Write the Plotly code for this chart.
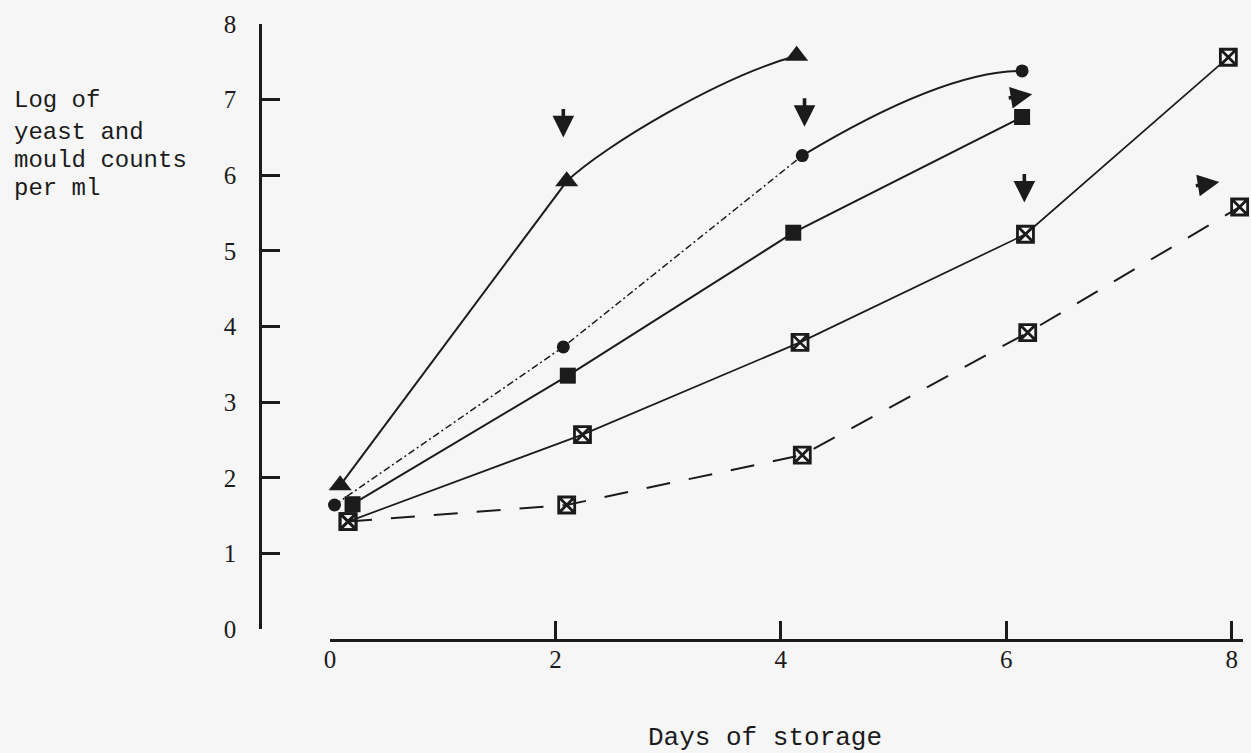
import plotly.graph_objects as go

INK = "#1b1b1b"
PAPER = "#f6f6f6"

# Day of sampling and log10 yeast & mould count per ml for each sample
tri_days = [0.09, 2.10, 4.14]
tri_logs = [1.90, 5.92, 7.58]

dot_days = [0.04, 2.07, 4.19, 6.14]
dot_logs = [1.64, 3.73, 6.26, 7.38]

sq_days = [0.20, 2.11, 4.11, 6.14]
sq_logs = [1.65, 3.35, 5.24, 6.77]

xs_days = [0.16, 2.24, 4.17, 6.17, 7.97]
xs_logs = [1.42, 2.57, 3.79, 5.22, 7.56]

xd_days = [0.16, 2.10, 4.19, 6.19, 8.07]
xd_logs = [1.42, 1.64, 2.30, 3.92, 5.58]

# Arrow tips marking the end of acceptability
down_arrow_days = [2.07, 4.21, 6.16]
down_arrow_logs = [6.50, 6.64, 5.64]
side_arrow_days = [6.23, 7.89]
side_arrow_logs = [7.07, 5.91]

x_ticks = [0, 2, 4, 6, 8]
y_ticks = [0, 1, 2, 3, 4, 5, 6, 7, 8]
y_title_lines = ["Log of", "yeast and", "mould counts", "per ml"]
x_title = "Days of storage"

W, H = 1251, 753
TICK_FONT = dict(family="Liberation Serif", size=25, color=INK)
TITLE_FONT = dict(family="Liberation Mono", size=24, color=INK)


def cubic_tail(days, logs, k, lead, settle):
    """Smooth cubic piece from sample k-1 to sample k: it leaves k-1 along the
    chord from k-2 to k and flattens as it approaches k."""
    x0, y0 = days[k - 2], logs[k - 2]
    x1, y1 = days[k - 1], logs[k - 1]
    x2, y2 = days[k], logs[k]
    c1x, c1y = x1 + lead * (x2 - x0) / 6, y1 + lead * (y2 - y0) / 6
    c2x, c2y = x2 - (x2 - x1) / 3, y2 - settle * (y2 - y1) / 3
    return f"M {x1},{y1} C {c1x},{c1y} {c2x},{c2y} {x2},{y2}"


def levelling_tail(days, logs, k):
    """Quadratic piece from sample k-1 to sample k that levels off at sample k."""
    x0, y0 = days[k - 2], logs[k - 2]
    x1, y1 = days[k - 1], logs[k - 1]
    x2, y2 = days[k], logs[k]
    tx, ty = (x2 - x0) / 2, (y2 - y0) / 2
    s = (y2 - y1) / ty
    return f"M {x1},{y1} Q {x1 + s * tx},{y2} {x2},{y2}"


fig = go.Figure()

# filled triangles: straight rise, then a bending solid curve
fig.add_trace(go.Scatter(
    x=tri_days[:2], y=tri_logs[:2], mode="lines", cliponaxis=False,
    line=dict(color=INK, width=2)))
fig.add_shape(type="path", xref="x", yref="y", layer="above",
              path=cubic_tail(tri_days, tri_logs, 2, 0.5, 0.5),
              line=dict(color=INK, width=2))
fig.add_trace(go.Scatter(
    x=tri_days, y=tri_logs, mode="markers", cliponaxis=False,
    marker=dict(symbol="triangle-up", size=20, color=INK)))

# filled circles: dotted rise, then a solid curve levelling off
fig.add_trace(go.Scatter(
    x=dot_days[:3], y=dot_logs[:3], mode="lines", cliponaxis=False,
    line=dict(color=INK, width=1.5, dash="7px,3px,2px,3px")))
fig.add_shape(type="path", xref="x", yref="y", layer="above",
              path=levelling_tail(dot_days, dot_logs, 3),
              line=dict(color=INK, width=2))
fig.add_trace(go.Scatter(
    x=dot_days, y=dot_logs, mode="markers", cliponaxis=False,
    marker=dict(symbol="circle", size=13, color=INK)))

# filled squares, solid
fig.add_trace(go.Scatter(
    x=sq_days, y=sq_logs, mode="lines+markers", cliponaxis=False,
    line=dict(color=INK, width=2),
    marker=dict(symbol="square", size=16, color=INK)))

# crossed squares, solid
fig.add_trace(go.Scatter(
    x=xs_days, y=xs_logs, mode="lines+markers", cliponaxis=False,
    line=dict(color=INK, width=1.7),
    marker=dict(symbol="square-x-open", size=16, color=INK, line=dict(width=2.8))))

# crossed squares, dashed
fig.add_trace(go.Scatter(
    x=xd_days, y=xd_logs, mode="lines+markers", cliponaxis=False,
    line=dict(color=INK, width=2, dash="24px,19px"),
    marker=dict(symbol="square-x-open", size=16, color=INK, line=dict(width=2.8))))

annotations = []
for d, v in zip(down_arrow_days, down_arrow_logs):
    annotations.append(dict(x=d, y=v, xref="x", yref="y", text="", showarrow=True,
                            arrowhead=2, arrowsize=1.2, arrowwidth=3.6, arrowcolor=INK,
                            ax=0, ay=-30))
for d, v in zip(side_arrow_days, side_arrow_logs):
    annotations.append(dict(x=d, y=v, xref="x", yref="y", text="", showarrow=True,
                            arrowhead=2, arrowsize=1.2, arrowwidth=3.6, arrowcolor=INK,
                            ax=-25, ay=4))

line_centres = [100, 132, 160, 188]
for txt, yp in zip(y_title_lines, line_centres):
    annotations.append(dict(x=12 / W, y=1 - yp / H, xref="paper", yref="paper",
                            text=txt, showarrow=False, xanchor="left", yanchor="middle",
                            font=TITLE_FONT))
annotations.append(dict(x=765 / W, y=1 - 738 / H, xref="paper", yref="paper",
                        text=x_title, showarrow=False, xanchor="center", yanchor="middle",
                        font=dict(family="Liberation Mono", size=26, color=INK)))

fig.update_layout(
    width=W, height=H, margin=dict(l=0, r=0, t=0, b=0, autoexpand=False),
    paper_bgcolor=PAPER, plot_bgcolor=PAPER, showlegend=False,
    annotations=annotations,
    xaxis=dict(domain=[330 / W, 1243 / W], range=[0, 8.1], anchor="free", position=113 / H,
               showline=True, linecolor=INK, linewidth=2.5, ticks="inside", ticklen=18,
               tickwidth=2.5, tickcolor=INK, tickvals=x_ticks, showgrid=False, zeroline=False,
               tickfont=TICK_FONT, ticklabelstandoff=-4, automargin=False),
    yaxis=dict(domain=[124 / H, 729 / H], range=[0, 8], anchor="free", position=260 / W,
               showline=True, linecolor=INK, linewidth=2.5, ticks="inside", ticklen=18,
               tickwidth=2.5, tickcolor=INK, tickvals=y_ticks, showgrid=False, zeroline=False,
               tickfont=TICK_FONT, ticklabelstandoff=18, automargin=False),
)

fig.write_html("out.html")
